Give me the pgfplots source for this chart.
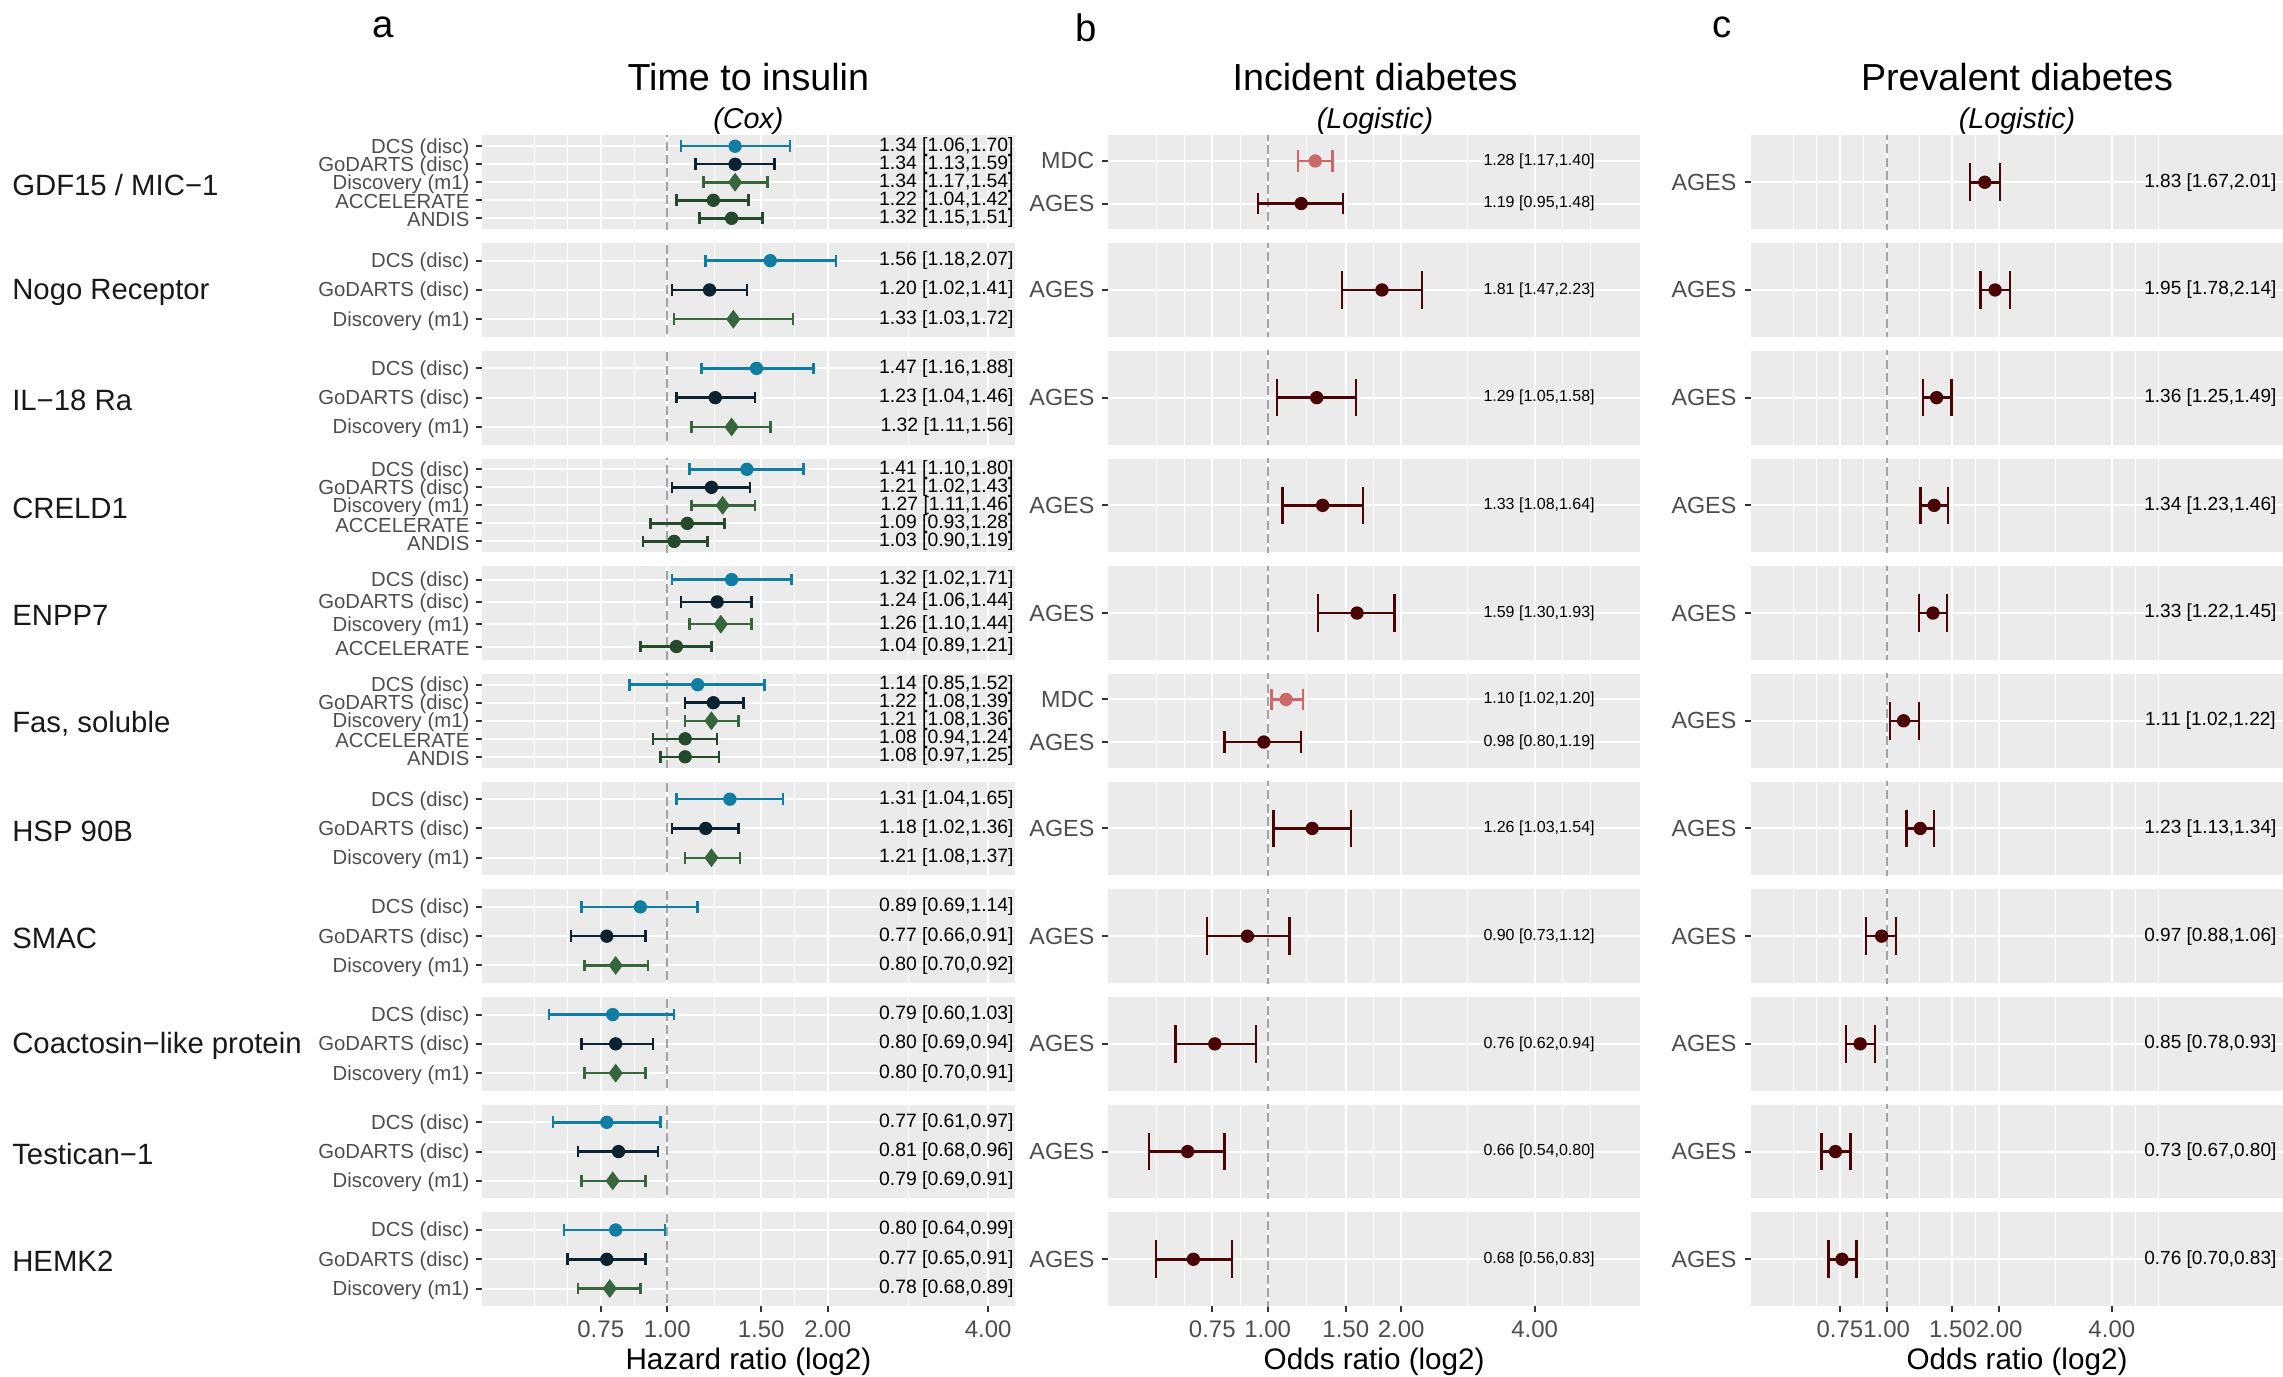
\documentclass[border=0pt]{standalone}
\usepackage{fontspec}
\setmainfont{Liberation Sans}
\usepackage{pgfplots}
\pgfplotsset{compat=1.18}
\definecolor{gg92}{HTML}{EBEBEB}
\definecolor{gray30}{HTML}{4D4D4D}
\definecolor{gray20}{HTML}{333333}
\definecolor{refgray}{HTML}{A3A3A3}
\definecolor{cDCS}{HTML}{0F7EA2}
\definecolor{cGOD}{HTML}{0B2232}
\definecolor{cDIS}{HTML}{38663C}
\definecolor{cACC}{HTML}{254A2B}
\definecolor{cAGES}{HTML}{4A0404}
\definecolor{cMDC}{HTML}{CC6868}

\pgfplotsset{
  ggbase/.style={
    anchor=north west, scale only axis, height=28.11pt,
    y dir=reverse, ymin=0.4,
    axis background/.style={fill=gg92},
    axis line style={draw=none},
    tick pos=left, tick align=outside,
    major tick length=1.8pt, minor tick length=0pt,
    xtick={-0.415037,0,0.584963,1,2},
    minor xtick={-0.830075,-0.622556,-0.207519,0.292481,0.792481,1.5,2.207519,2.415037},
    xmajorgrids, xminorgrids, ymajorgrids,
    major grid style={white, line width=0.6pt},
    minor grid style={white, line width=0.3pt},
    ytick style={draw=gray20, line width=0.6pt},
    xticklabels={}, xtick style={draw=none},
  },
  colA/.style={ggbase, width=159.99pt, xmin=-1.157, xmax=2.167,
    yticklabel style={font=\fontsize{6.1}{7}\selectfont, text=gray30, inner sep=0pt, anchor=east, xshift=-1.7pt, yshift=-0.5pt}},
  colB/.style={ggbase, width=159.51pt, xmin=-1.194, xmax=2.789,
    yticklabel style={font=\fontsize{7}{8}\selectfont, text=gray30, inner sep=0pt, anchor=east, xshift=-2.2pt}},
  colC/.style={ggbase, width=159.6pt, xmin=-1.204, xmax=3.52,
    yticklabel style={font=\fontsize{7}{8}\selectfont, text=gray30, inner sep=0pt, anchor=east, xshift=-2.4pt}},
  labA/.style={ymax=5.6, ytick={1,2,3,4,5}, yticklabels={DCS (disc),GoDARTS (disc),Discovery (m1),ACCELERATE,ANDIS}},
  labB/.style={ymax=3.6, ytick={1,2,3}, yticklabels={DCS (disc),GoDARTS (disc),Discovery (m1)}},
  labC/.style={ymax=4.6, ytick={1,2,3,4}, yticklabels={DCS (disc),GoDARTS (disc),Discovery (m1),ACCELERATE}},
  labD/.style={ymax=2.6, ytick={1,2}, yticklabels={MDC,AGES}},
  labS/.style={ymax=1.6, ytick={1}, yticklabels={AGES}},
  bottom/.style={xticklabels={0.75,1.00,1.50,2.00,4.00},
    xtick style={draw=gray20, line width=0.6pt},
    xticklabel style={font=\fontsize{7.2}{8}\selectfont, text=gray30, inner sep=0pt, anchor=north, yshift=-2.25pt},
    xlabel={#1},
    xlabel style={font=\fontsize{8.9}{10}\selectfont, at={(axis description cs:0.5,0)}, anchor=center, yshift=-16.6pt}},
  circ/.style={mark=*, mark size=1.8pt},
  diam/.style={mark=diamond*, mark size=2.5pt},
  refl/.style={draw=refgray, line width=0.6pt, dash pattern=on 2.7pt off 1.3pt, no marks, forget plot},
}
\newcommand{\refline}{\addplot[refl] coordinates {(0,0) (0,10)};}
% #1 colour, #2 point style, #3 cap half-height, #4 y, #5 estimate, #6 lower, #7 upper  (x plotted as log2)
\newcommand{\ci}[7]{%
  \addplot[color=#1, line width=0.75pt, mark=|, mark size=#3, mark options={solid, line width=0.75pt}] table[row sep=\\, x expr={ln(\thisrow{x})/ln(2)}] {x y\\ #6 #4\\ #7 #4\\};
  \addplot[color=#1, only marks, #2, mark options={solid}] table[row sep=\\, x expr={ln(\thisrow{x})/ln(2)}] {x y\\ #5 #4\\};
  \node[font=\lblfont, anchor=\lblanchor, inner sep=0pt] at (axis cs:\lblx,#4) {#5 [#6,#7]};
}

\begin{document}
\begin{tikzpicture}
\useasboundingbox (0,0) rectangle (684.9pt,-412.8pt);
% panel letters and titles
\node[font=\fontsize{11.5}{13}\selectfont] at (114.9pt,-8.3pt) {a};
\node[font=\fontsize{11.5}{13}\selectfont] at (325.8pt,-8.3pt) {b};
\node[font=\fontsize{11.5}{13}\selectfont] at (516.7pt,-8.3pt) {c};
\node[font=\fontsize{11.3}{13}\selectfont] at (224.5pt,-23.2pt) {Time to insulin};
\node[font=\fontsize{11.3}{13}\selectfont] at (412.5pt,-23.2pt) {Incident diabetes};
\node[font=\fontsize{11.3}{13}\selectfont] at (605.1pt,-23.2pt) {Prevalent diabetes};
\node[font=\fontsize{8.6}{10}\selectfont\itshape] at (224.5pt,-36.2pt) {(Cox)};
\node[font=\fontsize{8.6}{10}\selectfont\itshape] at (412.5pt,-36.2pt) {(Logistic)};
\node[font=\fontsize{8.6}{10}\selectfont\itshape] at (605.1pt,-36.2pt) {(Logistic)};
% row labels
\begin{scope}[every node/.style={anchor=west, inner sep=0pt, font=\fontsize{8.8}{10}\selectfont, text=black!90}]
\node at (3.48pt,-55.5pt) {GDF15 / MIC−1};
\node at (3.48pt,-87.8pt) {Nogo Receptor};
\node at (3.48pt,-120.1pt) {IL−18 Ra};
\node at (3.48pt,-152.4pt) {CRELD1};
\node at (3.48pt,-184.7pt) {ENPP7};
\node at (3.48pt,-217.0pt) {Fas, soluble};
\node at (3.48pt,-249.3pt) {HSP 90B};
\node at (3.48pt,-281.6pt) {SMAC};
\node at (3.48pt,-313.9pt) {Coactosin−like protein};
\node at (3.48pt,-346.2pt) {Testican−1};
\node at (3.48pt,-378.5pt) {HEMK2};
\end{scope}

% ================= Column a =================
\def\lblx{2.162}\def\lblanchor{east}\def\lblfont{\fontsize{5.8}{7}\selectfont}
\def\cp{1.75pt}
\begin{axis}[colA, labA, at={(144.51pt,-40.62pt)}]
\refline
\ci{cDCS}{circ}{\cp}{1}{1.34}{1.06}{1.70}
\ci{cGOD}{circ}{\cp}{2}{1.34}{1.13}{1.59}
\ci{cDIS}{diam}{\cp}{3}{1.34}{1.17}{1.54}
\ci{cACC}{circ}{\cp}{4}{1.22}{1.04}{1.42}
\ci{cACC}{circ}{\cp}{5}{1.32}{1.15}{1.51}
\end{axis}
\begin{axis}[colA, labB, at={(144.51pt,-72.93pt)}]
\refline
\ci{cDCS}{circ}{\cp}{1}{1.56}{1.18}{2.07}
\ci{cGOD}{circ}{\cp}{2}{1.20}{1.02}{1.41}
\ci{cDIS}{diam}{\cp}{3}{1.33}{1.03}{1.72}
\end{axis}
\begin{axis}[colA, labB, at={(144.51pt,-105.24pt)}]
\refline
\ci{cDCS}{circ}{\cp}{1}{1.47}{1.16}{1.88}
\ci{cGOD}{circ}{\cp}{2}{1.23}{1.04}{1.46}
\ci{cDIS}{diam}{\cp}{3}{1.32}{1.11}{1.56}
\end{axis}
\begin{axis}[colA, labA, at={(144.51pt,-137.55pt)}]
\refline
\ci{cDCS}{circ}{\cp}{1}{1.41}{1.10}{1.80}
\ci{cGOD}{circ}{\cp}{2}{1.21}{1.02}{1.43}
\ci{cDIS}{diam}{\cp}{3}{1.27}{1.11}{1.46}
\ci{cACC}{circ}{\cp}{4}{1.09}{0.93}{1.28}
\ci{cACC}{circ}{\cp}{5}{1.03}{0.90}{1.19}
\end{axis}
\begin{axis}[colA, labC, at={(144.51pt,-169.86pt)}]
\refline
\ci{cDCS}{circ}{\cp}{1}{1.32}{1.02}{1.71}
\ci{cGOD}{circ}{\cp}{2}{1.24}{1.06}{1.44}
\ci{cDIS}{diam}{\cp}{3}{1.26}{1.10}{1.44}
\ci{cACC}{circ}{\cp}{4}{1.04}{0.89}{1.21}
\end{axis}
\begin{axis}[colA, labA, at={(144.51pt,-202.17pt)}]
\refline
\ci{cDCS}{circ}{\cp}{1}{1.14}{0.85}{1.52}
\ci{cGOD}{circ}{\cp}{2}{1.22}{1.08}{1.39}
\ci{cDIS}{diam}{\cp}{3}{1.21}{1.08}{1.36}
\ci{cACC}{circ}{\cp}{4}{1.08}{0.94}{1.24}
\ci{cACC}{circ}{\cp}{5}{1.08}{0.97}{1.25}
\end{axis}
\begin{axis}[colA, labB, at={(144.51pt,-234.48pt)}]
\refline
\ci{cDCS}{circ}{\cp}{1}{1.31}{1.04}{1.65}
\ci{cGOD}{circ}{\cp}{2}{1.18}{1.02}{1.36}
\ci{cDIS}{diam}{\cp}{3}{1.21}{1.08}{1.37}
\end{axis}
\begin{axis}[colA, labB, at={(144.51pt,-266.79pt)}]
\refline
\ci{cDCS}{circ}{\cp}{1}{0.89}{0.69}{1.14}
\ci{cGOD}{circ}{\cp}{2}{0.77}{0.66}{0.91}
\ci{cDIS}{diam}{\cp}{3}{0.80}{0.70}{0.92}
\end{axis}
\begin{axis}[colA, labB, at={(144.51pt,-299.10pt)}]
\refline
\ci{cDCS}{circ}{\cp}{1}{0.79}{0.60}{1.03}
\ci{cGOD}{circ}{\cp}{2}{0.80}{0.69}{0.94}
\ci{cDIS}{diam}{\cp}{3}{0.80}{0.70}{0.91}
\end{axis}
\begin{axis}[colA, labB, at={(144.51pt,-331.41pt)}]
\refline
\ci{cDCS}{circ}{\cp}{1}{0.77}{0.61}{0.97}
\ci{cGOD}{circ}{\cp}{2}{0.81}{0.68}{0.96}
\ci{cDIS}{diam}{\cp}{3}{0.79}{0.69}{0.91}
\end{axis}
\begin{axis}[colA, labB, bottom={Hazard ratio (log2)}, at={(144.51pt,-363.72pt)}]
\refline
\ci{cDCS}{circ}{\cp}{1}{0.80}{0.64}{0.99}
\ci{cGOD}{circ}{\cp}{2}{0.77}{0.65}{0.91}
\ci{cDIS}{diam}{\cp}{3}{0.78}{0.68}{0.89}
\end{axis}

% ================= Column b =================
\def\lblx{2.033}\def\lblanchor{center}\def\lblfont{\fontsize{4.8}{6}\selectfont}
\def\cs{5.65pt}\def\cd{3.2pt}
\begin{axis}[colB, labD, at={(332.49pt,-40.62pt)}]
\refline
\ci{cMDC}{circ}{\cd}{1}{1.28}{1.17}{1.40}
\ci{cAGES}{circ}{\cd}{2}{1.19}{0.95}{1.48}
\end{axis}
\begin{axis}[colB, labS, at={(332.49pt,-72.93pt)}]
\refline
\ci{cAGES}{circ}{\cs}{1}{1.81}{1.47}{2.23}
\end{axis}
\begin{axis}[colB, labS, at={(332.49pt,-105.24pt)}]
\refline
\ci{cAGES}{circ}{\cs}{1}{1.29}{1.05}{1.58}
\end{axis}
\begin{axis}[colB, labS, at={(332.49pt,-137.55pt)}]
\refline
\ci{cAGES}{circ}{\cs}{1}{1.33}{1.08}{1.64}
\end{axis}
\begin{axis}[colB, labS, at={(332.49pt,-169.86pt)}]
\refline
\ci{cAGES}{circ}{\cs}{1}{1.59}{1.30}{1.93}
\end{axis}
\begin{axis}[colB, labD, at={(332.49pt,-202.17pt)}]
\refline
\ci{cMDC}{circ}{\cd}{1}{1.10}{1.02}{1.20}
\ci{cAGES}{circ}{\cd}{2}{0.98}{0.80}{1.19}
\end{axis}
\begin{axis}[colB, labS, at={(332.49pt,-234.48pt)}]
\refline
\ci{cAGES}{circ}{\cs}{1}{1.26}{1.03}{1.54}
\end{axis}
\begin{axis}[colB, labS, at={(332.49pt,-266.79pt)}]
\refline
\ci{cAGES}{circ}{\cs}{1}{0.90}{0.73}{1.12}
\end{axis}
\begin{axis}[colB, labS, at={(332.49pt,-299.10pt)}]
\refline
\ci{cAGES}{circ}{\cs}{1}{0.76}{0.62}{0.94}
\end{axis}
\begin{axis}[colB, labS, at={(332.49pt,-331.41pt)}]
\refline
\ci{cAGES}{circ}{\cs}{1}{0.66}{0.54}{0.80}
\end{axis}
\begin{axis}[colB, labS, bottom={Odds ratio (log2)}, at={(332.49pt,-363.72pt)}]
\refline
\ci{cAGES}{circ}{\cs}{1}{0.68}{0.56}{0.83}
\end{axis}

% ================= Column c =================
\def\lblx{2.875}\def\lblanchor{center}\def\lblfont{\fontsize{5.7}{7}\selectfont}
\begin{axis}[colC, labS, at={(525.3pt,-40.62pt)}]
\refline
\ci{cAGES}{circ}{\cs}{1}{1.83}{1.67}{2.01}
\end{axis}
\begin{axis}[colC, labS, at={(525.3pt,-72.93pt)}]
\refline
\ci{cAGES}{circ}{\cs}{1}{1.95}{1.78}{2.14}
\end{axis}
\begin{axis}[colC, labS, at={(525.3pt,-105.24pt)}]
\refline
\ci{cAGES}{circ}{\cs}{1}{1.36}{1.25}{1.49}
\end{axis}
\begin{axis}[colC, labS, at={(525.3pt,-137.55pt)}]
\refline
\ci{cAGES}{circ}{\cs}{1}{1.34}{1.23}{1.46}
\end{axis}
\begin{axis}[colC, labS, at={(525.3pt,-169.86pt)}]
\refline
\ci{cAGES}{circ}{\cs}{1}{1.33}{1.22}{1.45}
\end{axis}
\begin{axis}[colC, labS, at={(525.3pt,-202.17pt)}]
\refline
\ci{cAGES}{circ}{\cs}{1}{1.11}{1.02}{1.22}
\end{axis}
\begin{axis}[colC, labS, at={(525.3pt,-234.48pt)}]
\refline
\ci{cAGES}{circ}{\cs}{1}{1.23}{1.13}{1.34}
\end{axis}
\begin{axis}[colC, labS, at={(525.3pt,-266.79pt)}]
\refline
\ci{cAGES}{circ}{\cs}{1}{0.97}{0.88}{1.06}
\end{axis}
\begin{axis}[colC, labS, at={(525.3pt,-299.10pt)}]
\refline
\ci{cAGES}{circ}{\cs}{1}{0.85}{0.78}{0.93}
\end{axis}
\begin{axis}[colC, labS, at={(525.3pt,-331.41pt)}]
\refline
\ci{cAGES}{circ}{\cs}{1}{0.73}{0.67}{0.80}
\end{axis}
\begin{axis}[colC, labS, bottom={Odds ratio (log2)}, at={(525.3pt,-363.72pt)}]
\refline
\ci{cAGES}{circ}{\cs}{1}{0.76}{0.70}{0.83}
\end{axis}
\end{tikzpicture}
\end{document}
